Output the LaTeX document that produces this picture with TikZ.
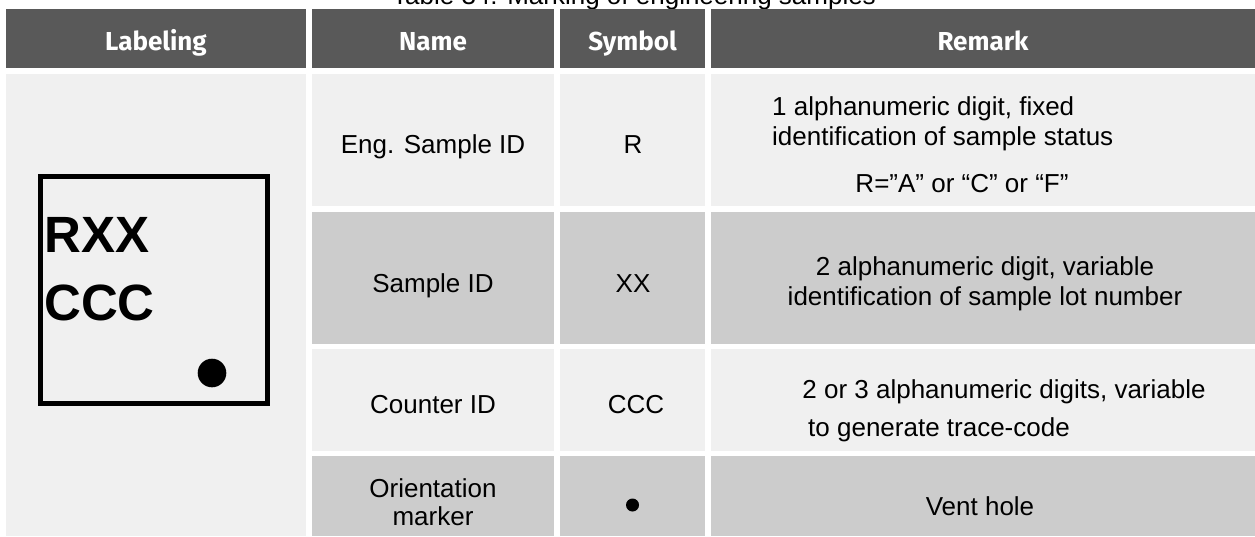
\documentclass[tikz,border=0pt]{standalone}
\usepackage{fontspec}
\setmainfont{Liberation Sans}
\newfontfamily\headfont{Fira Sans}
\usetikzlibrary{positioning}
\definecolor{headgray}{RGB}{89,89,89}
\definecolor{lightrow}{RGB}{240,240,240}
\definecolor{darkrow}{RGB}{204,204,204}
\tikzstyle{cellbox} = [rectangle, anchor=north west, inner sep=0pt, outer sep=0pt]
\tikzstyle{headcell} = [cellbox, fill=headgray, minimum height=59]
\tikzstyle{lightcell} = [cellbox, fill=lightrow]
\tikzstyle{darkcell} = [cellbox, fill=darkrow]
\tikzstyle{headtext} = [anchor=base, inner sep=0pt, text=white, font=\headfont\bfseries\fontsize{26}{26}\selectfont]
\tikzstyle{bodytext} = [anchor=base, inner sep=0pt, font=\fontsize{26}{28}\selectfont]

\begin{document}
\begin{tikzpicture}[x=1pt, y=-1pt,
remleft/.style={bodytext, anchor=base west},
marktext/.style={anchor=base west, inner sep=0pt, font=\bfseries\fontsize{51}{51}\selectfont}
]
\fill[white] (0,0) rectangle (1255,536);
\useasboundingbox (0,0) rectangle (1255,536);

\node (title) [bodytext] at (634,4.5) {Table 34: Marking of engineering samples};

% header row
\node (hlabcell) [headcell, minimum width=300] at (6,9) {};
\node (hnamecell) [headcell, minimum width=242] at (312,9) {};
\node (hsymcell) [headcell, minimum width=145] at (560,9) {};
\node (hremcell) [headcell, minimum width=544] at (711,9) {};
\node (hlab) [headtext] at (156,50) {Labeling};
\node (hname) [headtext] at (433,50) {Name};
\node (hsym) [headtext] at (632.5,50) {Symbol};
\node (hrem) [headtext] at (983,50) {Remark};

% cells
\node (labcell) [lightcell, minimum width=300, minimum height=462] at (6,74) {};
\node (engcell) [lightcell, minimum width=242, minimum height=132] at (312,74) {};
\node (rcell) [lightcell, minimum width=145, minimum height=132] at (560,74) {};
\node (engremcell) [lightcell, minimum width=544, minimum height=132] at (711,74) {};
\node (samplecell) [darkcell, minimum width=242, minimum height=132] at (312,212) {};
\node (xxcell) [darkcell, minimum width=145, minimum height=132] at (560,212) {};
\node (sampleremcell) [darkcell, minimum width=544, minimum height=132] at (711,212) {};
\node (countcell) [lightcell, minimum width=242, minimum height=102] at (312,349) {};
\node (ccccell) [lightcell, minimum width=145, minimum height=102] at (560,349) {};
\node (countremcell) [lightcell, minimum width=544, minimum height=102] at (711,349) {};
\node (orientcell) [darkcell, minimum width=242, minimum height=80] at (312,456) {};
\node (dotcell) [darkcell, minimum width=145, minimum height=80] at (560,456) {};
\node (orientremcell) [darkcell, minimum width=544, minimum height=80] at (711,456) {};

% labeling
\draw [line width=5] (40.8,176.5) rectangle (267.5,403.5);
\node (rxx) [marktext] at (44,252) {RXX};
\node (ccc) [marktext] at (44,320.7) {CCC};
\fill (212,373) circle (14.3);

% row texts
\node (engname) [bodytext] at (433,153) {Eng. Sample ID};
\node (rsym) [bodytext] at (633,153) {R};
\node (engrem1) [remleft] at (772,115) {1 alphanumeric digit, fixed};
\node (engrem2) [remleft] at (772,145) {identification of sample status};
\node (engrem3) [bodytext] at (962,192) {R=”A” or “C” or “F”};

\node (samplename) [bodytext] at (433,292) {Sample ID};
\node (xxsym) [bodytext] at (633,292) {XX};
\node (samplerem1) [bodytext] at (985,275) {2 alphanumeric digit, variable};
\node (samplerem2) [bodytext] at (985,305) {identification of sample lot number};

\node (countname) [bodytext] at (433,413) {Counter ID};
\node (cccsym) [bodytext] at (636,413) {CCC};
\node (countrem1) [bodytext] at (1004,398) {2 or 3 alphanumeric digits, variable};
\node (countrem2) [remleft] at (808,436) {to generate trace-code};

\node (orientname) [bodytext] at (433,497) {Orientation};
\node (markername) [bodytext] at (433,525) {marker};
\fill (632.5,505) circle (6.5);
\node (venthole) [bodytext] at (980,515) {Vent hole};
\end{tikzpicture}
\end{document}
